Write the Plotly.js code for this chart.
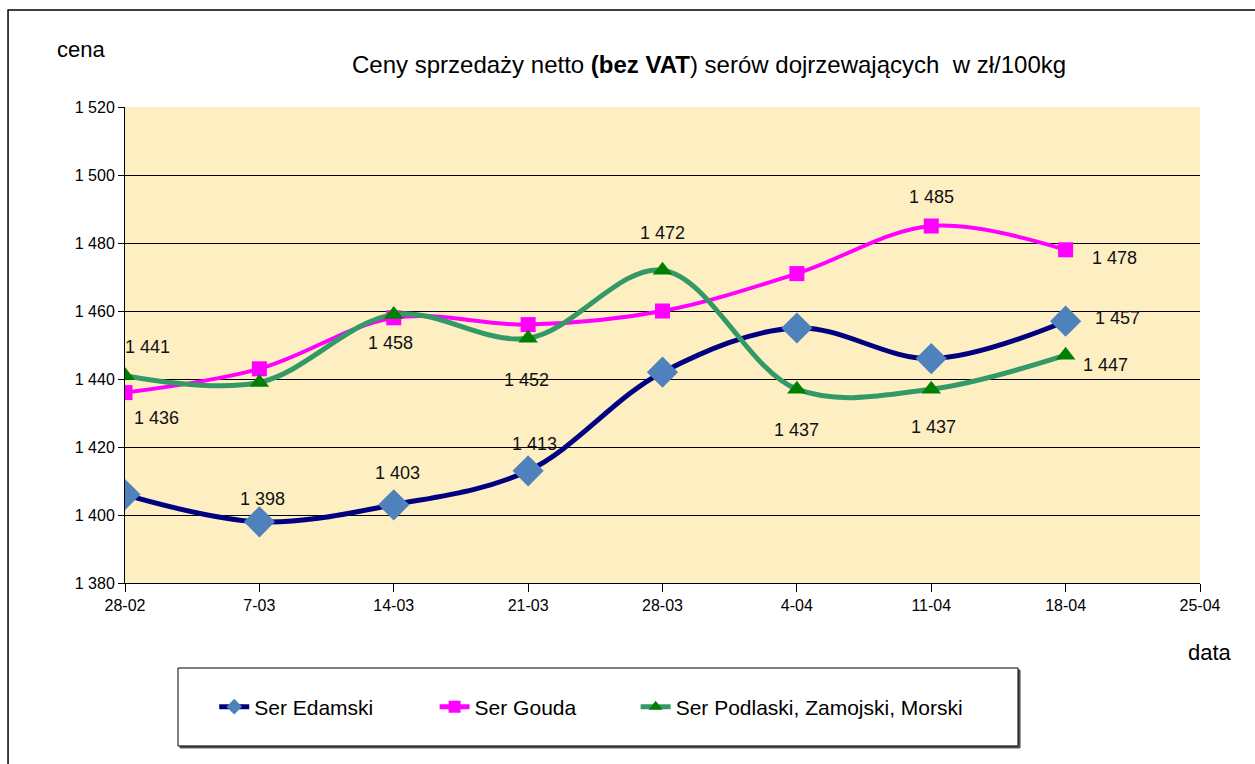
<!DOCTYPE html>
<html>
<head>
<meta charset="utf-8">
<script src="https://cdn.plot.ly/plotly-3.0.1.min.js"></script>
<style>
html,body{margin:0;padding:0;background:#fff;}
#chart{width:1255px;height:764px;}
</style>
</head>
<body>
<div id="chart"></div>
<script>
// ---- data ----
const categories = ['28-02','7-03','14-03','21-03','28-03','4-04','11-04','18-04','25-04'];
const dataDates = ['28-02','7-03','14-03','21-03','28-03','4-04','11-04','18-04'];
const edamski  = [1406, 1398, 1403, 1413, 1442, 1455, 1446, 1457];
const gouda    = [1436, 1443, 1458, 1456, 1460, 1471, 1485, 1478];
const podlaski = [1441, 1439, 1459, 1452, 1472, 1437, 1437, 1447];
const yTickVals = [1380, 1400, 1420, 1440, 1460, 1480, 1500, 1520];
const seriesNames = ['Ser Edamski', 'Ser Gouda', 'Ser Podlaski, Zamojski, Morski'];

// which points carry a value label
const edamskiLabelIdx  = [1, 2, 3, 7];
const goudaLabelIdx    = [0, 2, 6, 7];
const podlaskiLabelIdx = [0, 3, 4, 5, 6, 7];

// label placement (pixel shifts, style only)
const edamskiShift  = {1:[3,23], 2:[4,32], 3:[6,27], 7:[52,3]};
const goudaShift    = {0:[31,-25], 2:[-3,-25], 6:[0,29], 7:[49,-8]};
const podlaskiShift = {0:[22,29], 3:[-2,-42], 4:[0,37], 5:[0,-41], 6:[2,-38], 7:[40,-10]};

const fmt = v => String(Math.round(v)).replace(/\B(?=(\d{3})+(?!\d))/g, ' ');
const FONT = 'Liberation Sans, Arial, sans-serif';

const traces = [
  {
    name: seriesNames[0], x: dataDates, y: edamski, type: 'scatter', mode: 'lines+markers',
    legend: 'legend',
    line: {color: '#000080', width: 5, shape: 'spline', smoothing: 1},
    marker: {symbol: 'diamond', size: 24, color: '#4F81BD'}
  },
  {
    name: seriesNames[1], x: dataDates, y: gouda, type: 'scatter', mode: 'lines+markers',
    legend: 'legend2',
    line: {color: '#FF00FF', width: 4, shape: 'spline', smoothing: 1},
    marker: {symbol: 'square', size: 15, color: '#FF00FF'}
  },
  {
    name: seriesNames[2], x: dataDates, y: podlaski, type: 'scatter', mode: 'lines+markers',
    legend: 'legend3',
    line: {color: '#339966', width: 5, shape: 'spline', smoothing: 1},
    marker: {symbol: 'triangle-up', size: 17, color: '#008000'}
  }
];

const annotations = [];
function addLabels(vals, idxs, shifts) {
  idxs.forEach(i => {
    const s = shifts[i] || [0, 0];
    annotations.push({
      xref: 'x', yref: 'y', x: dataDates[i], y: vals[i], text: fmt(vals[i]),
      showarrow: false, xshift: s[0], yshift: s[1],
      font: {family: FONT, size: 18, color: '#111'}
    });
  });
}
addLabels(edamski, edamskiLabelIdx, edamskiShift);
addLabels(gouda, goudaLabelIdx, goudaShift);
addLabels(podlaski, podlaskiLabelIdx, podlaskiShift);

annotations.push({
  xref: 'paper', yref: 'paper', x: -0.0405, y: 1.12, text: 'cena', showarrow: false,
  xanchor: 'center', yanchor: 'middle', font: {family: FONT, size: 22, color: '#000'}
});
annotations.push({
  xref: 'paper', yref: 'paper', x: 1.0093, y: -0.145, text: 'data', showarrow: false,
  xanchor: 'center', yanchor: 'middle', font: {family: FONT, size: 22, color: '#000'}
});

const shapes = [
  {type: 'rect', xref: 'paper', yref: 'paper', x0: -0.1088, x1: 1.3, y0: -0.7, y1: 1.2038,
   line: {color: '#000', width: 1.5}, fillcolor: 'rgba(0,0,0,0)', layer: 'below'},
  {type: 'rect', xref: 'paper', yref: 'paper', x0: 0.0512, x1: 0.8326, y0: -0.3466, y1: -0.1828,
   line: {color: '#555', width: 1}, fillcolor: '#555', layer: 'above'},
  {type: 'rect', xref: 'paper', yref: 'paper', x0: 0.0493, x1: 0.8307, y0: -0.3424, y1: -0.1786,
   line: {color: '#000', width: 1}, fillcolor: '#fff', layer: 'above'}
];

const legendBase = {
  orientation: 'h', xanchor: 'left', y: -0.2605, yanchor: 'middle',
  bgcolor: 'rgba(0,0,0,0)', borderwidth: 0, itemsizing: 'constant',
  font: {family: FONT, size: 21, color: '#000'}
};

const layout = {
  width: 1255, height: 764,
  margin: {l: 125, r: 55, t: 107, b: 181, pad: 0},
  paper_bgcolor: '#fff',
  plot_bgcolor: '#FEEFC3',
  title: {
    text: 'Ceny sprzedaży netto <b>(bez VAT</b>) serów dojrzewających  w zł/100kg',
    x: 0.565, xref: 'container', xanchor: 'center',
    y: 0.915, yref: 'container', yanchor: 'middle',
    font: {family: FONT, size: 24, color: '#000'}
  },
  xaxis: {
    type: 'category', categoryorder: 'array', categoryarray: categories,
    range: [0, 8], showgrid: false, zeroline: false,
    showline: true, linecolor: '#000', linewidth: 1,
    ticks: 'outside', ticklen: 8, tickcolor: '#000', tickwidth: 1,
    tickfont: {family: FONT, size: 16, color: '#000'}
  },
  yaxis: {
    range: [1380, 1520], tickmode: 'array', tickvals: yTickVals,
    ticktext: yTickVals.map(fmt),
    showgrid: true, gridcolor: '#000', gridwidth: 1, zeroline: false,
    showline: true, linecolor: '#000', linewidth: 1,
    ticks: 'outside', ticklen: 6, tickcolor: '#000', tickwidth: 1,
    tickfont: {family: FONT, size: 16, color: '#000'}
  },
  showlegend: true,
  legend:  Object.assign({}, legendBase, {x: 0.083}),
  legend2: Object.assign({}, legendBase, {x: 0.288}),
  legend3: Object.assign({}, legendBase, {x: 0.475}),
  annotations: annotations,
  shapes: shapes
};

Plotly.newPlot('chart', traces, layout, {displayModeBar: false, staticPlot: true});
</script>
</body>
</html>
